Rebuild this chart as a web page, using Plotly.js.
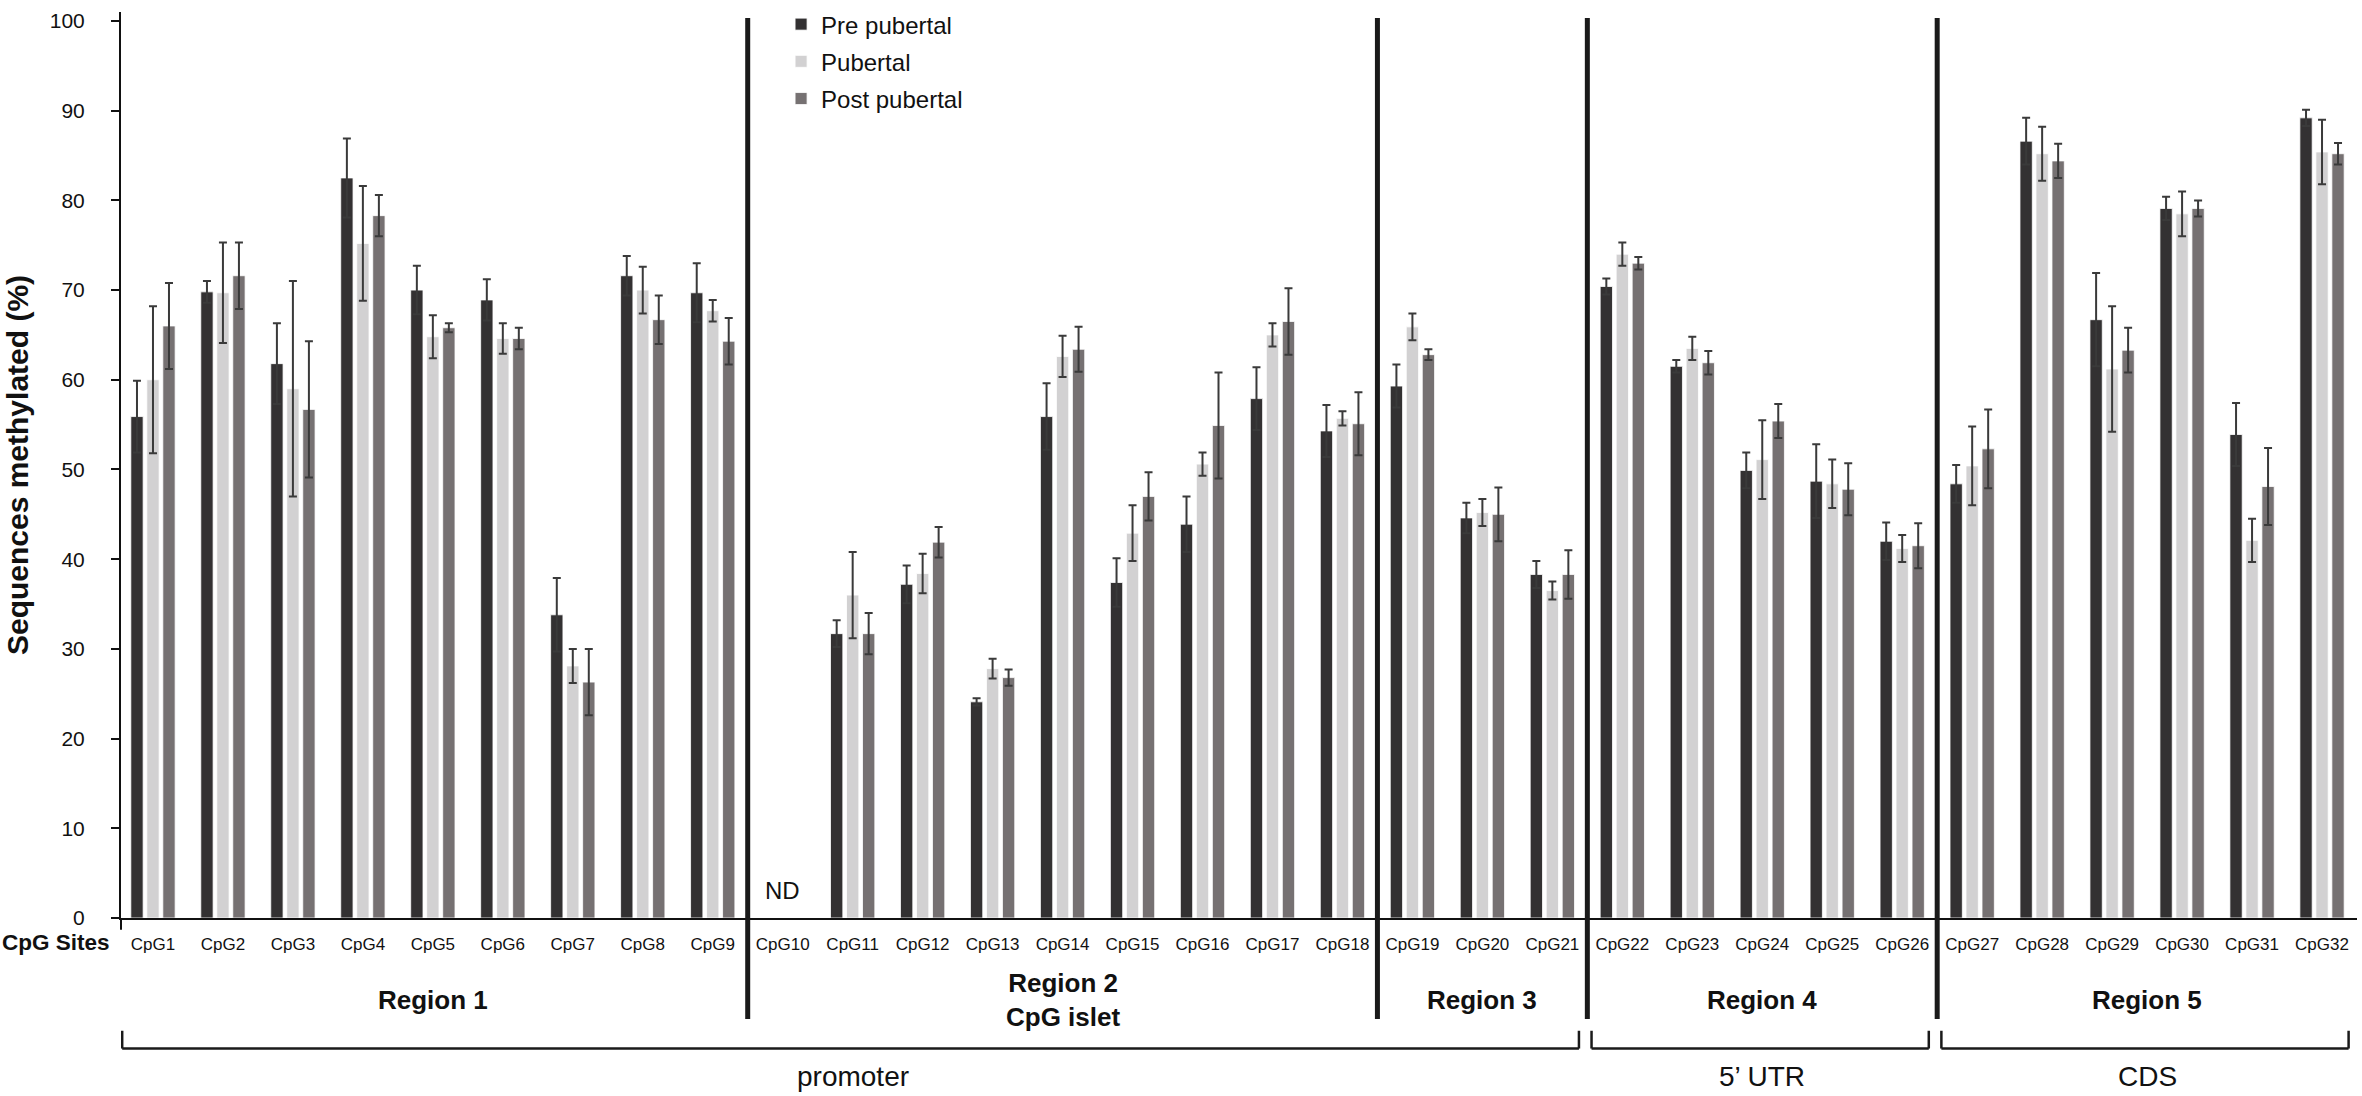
<!DOCTYPE html>
<html>
<head>
<meta charset="utf-8">
<script src="https://cdn.plot.ly/plotly-3.0.1.min.js"></script>
<style>
  html, body { margin: 0; padding: 0; background: #fff; }
  #chart { width: 2362px; height: 1096px; }
</style>
</head>
<body>
<div id="chart"></div>
<script>
// CpG sites on the x axis
const sites = ['CpG1', 'CpG2', 'CpG3', 'CpG4', 'CpG5', 'CpG6', 'CpG7', 'CpG8',
  'CpG9', 'CpG10', 'CpG11', 'CpG12', 'CpG13', 'CpG14', 'CpG15', 'CpG16',
  'CpG17', 'CpG18', 'CpG19', 'CpG20', 'CpG21', 'CpG22', 'CpG23', 'CpG24',
  'CpG25', 'CpG26', 'CpG27', 'CpG28', 'CpG29', 'CpG30', 'CpG31', 'CpG32'];

// % methylated, mean and error (CpG10 = ND)
const prePubertal = [55.9, 69.8, 61.8, 82.5, 70.0, 68.9, 33.8, 71.6, 69.7, null,
  31.7, 37.2, 24.1, 55.9, 37.4, 43.9, 57.9, 54.3, 59.3, 44.6, 38.3,
  70.4, 61.5, 49.9, 48.7, 42.0, 48.4, 86.6, 66.7, 79.1, 53.9, 89.2];
const prePubertalErr = [4.0, 1.2, 4.5, 4.4, 2.7, 2.3, 4.1, 2.2, 3.3, null,
  1.5, 2.1, 0.4, 3.7, 2.7, 3.1, 3.5, 2.9, 2.4, 1.7, 1.5,
  0.9, 0.7, 2.0, 4.1, 2.1, 2.1, 2.6, 5.2, 1.3, 3.5, 0.9];

const pubertal = [60.0, 69.7, 59.0, 75.2, 64.8, 64.6, 28.1, 70.0, 67.7, null,
  36.0, 38.4, 27.8, 62.6, 42.9, 50.6, 65.0, 55.7, 65.9, 45.2, 36.5,
  74.0, 63.5, 51.1, 48.4, 41.2, 50.4, 85.2, 61.2, 78.5, 42.1, 85.4];
const pubertalErr = [8.2, 5.6, 12.0, 6.4, 2.4, 1.7, 1.9, 2.6, 1.2, null,
  4.8, 2.2, 1.1, 2.3, 3.1, 1.3, 1.3, 0.8, 1.5, 1.5, 1.0,
  1.3, 1.3, 4.4, 2.7, 1.5, 4.4, 3.0, 7.0, 2.5, 2.4, 3.6];

const postPubertal = [66.0, 71.6, 56.7, 78.3, 65.8, 64.6, 26.3, 66.7, 64.3, null,
  31.7, 41.9, 26.8, 63.4, 47.0, 54.9, 66.5, 55.1, 62.8, 45.0, 38.3,
  73.0, 61.9, 55.4, 47.8, 41.5, 52.3, 84.4, 63.3, 79.1, 48.1, 85.2];
const postPubertalErr = [4.8, 3.7, 7.6, 2.3, 0.5, 1.2, 3.7, 2.7, 2.6, null,
  2.3, 1.7, 0.9, 2.5, 2.7, 5.9, 3.7, 3.5, 0.6, 3.0, 2.7,
  0.7, 1.3, 1.9, 2.9, 2.5, 4.4, 1.9, 2.5, 0.9, 4.3, 1.2];

// regions: label, first and last site of each block
const regionLabels = ['Region 1', 'Region 2<br>CpG islet', 'Region 3', 'Region 4', 'Region 5'];
const regionStarts = ['CpG1', 'CpG10', 'CpG19', 'CpG22', 'CpG27'];
const regionEnds = ['CpG9', 'CpG18', 'CpG21', 'CpG26', 'CpG32'];

// gene segments under the regions
const segmentLabels = ['promoter', '5\u2019 UTR', 'CDS'];
const segmentStarts = ['CpG1', 'CpG22', 'CpG27'];
const segmentEnds = ['CpG21', 'CpG26', 'CpG32'];

const FONT = 'Liberation Sans, Arial, Helvetica, sans-serif';
const INK = '#111111';

function barTrace(name, y, err, color) {
  return {
    type: 'bar', name: name, legendgroup: name,
    x: sites, y: y,
    marker: { color: color, line: { color: '#ffffff', width: 0.8 } },
    error_y: { type: 'data', array: err, visible: true, color: '#3a3a3a', thickness: 2, width: 4 },
    cliponaxis: false
  };
}

const traces = [
  barTrace('Pre pubertal', prePubertal, prePubertalErr, '#333132'),
  barTrace('Pubertal', pubertal, pubertalErr, '#d2d1d2'),
  barTrace('Post pubertal', postPubertal, postPubertalErr, '#767172')
];

// paper y for a pixel distance below the x axis (plot is 916 px tall)
const py = px => -px / 916;

const idx = s => sites.indexOf(s);
const shapes = [];
const annotations = [];

// vertical separators between regions
regionEnds.slice(0, -1).forEach(s => {
  shapes.push({ type: 'line', xref: 'x', yref: 'paper', x0: idx(s) + 0.5, x1: idx(s) + 0.5,
    y0: 0.9934, y1: py(102), line: { color: '#1a1a1a', width: 5 } });
});

// small extension of the y axis below zero
shapes.push({ type: 'line', xref: 'paper', yref: 'paper', x0: 0, x1: 0, y0: 0, y1: py(12),
  line: { color: INK, width: 2 } });

// region labels centred under each block
regionLabels.forEach((t, i) => {
  const c = (idx(regionStarts[i]) + idx(regionEnds[i])) / 2;
  annotations.push({ text: '<b>' + t + '</b>', xref: 'x', yref: 'paper', x: c, y: py(83),
    xanchor: 'center', yanchor: 'middle', showarrow: false,
    font: { family: FONT, size: 26, color: INK } });
});

// brackets for promoter / 5'UTR / CDS
segmentLabels.forEach((t, i) => {
  const a = idx(segmentStarts[i]) - 0.44;
  const b = idx(segmentEnds[i]) + 0.38;
  const ln = { color: '#1a1a1a', width: 2.5 };
  shapes.push({ type: 'line', xref: 'x', yref: 'paper', x0: a, x1: b, y0: py(132), y1: py(132), line: ln });
  shapes.push({ type: 'line', xref: 'x', yref: 'paper', x0: a, x1: a, y0: py(114), y1: py(132), line: ln });
  shapes.push({ type: 'line', xref: 'x', yref: 'paper', x0: b, x1: b, y0: py(114), y1: py(132), line: ln });
  const c = i === 0 ? idx('CpG11') : (idx(segmentStarts[i]) + idx(segmentEnds[i])) / 2;
  annotations.push({ text: t, xref: 'x', yref: 'paper', x: c, y: py(160),
    xanchor: 'center', yanchor: 'middle', showarrow: false,
    font: { family: FONT, size: 28, color: INK } });
});

annotations.push({ text: '<b>CpG Sites</b>', xref: 'paper', yref: 'paper', x: -0.004, y: py(25),
  xanchor: 'right', yanchor: 'middle', showarrow: false,
  font: { family: FONT, size: 22.5, color: INK } });
annotations.push({ text: 'ND', xref: 'x', yref: 'y', x: 'CpG10', y: 3.1,
  xanchor: 'center', yanchor: 'middle', showarrow: false,
  font: { family: FONT, size: 24, color: INK } });

const layout = {
  width: 2362, height: 1096,
  margin: { l: 121, r: 5, t: 2, b: 178 },
  paper_bgcolor: '#ffffff', plot_bgcolor: '#ffffff',
  font: { family: FONT, color: INK },
  barmode: 'group', bargap: 0.314, bargroupgap: 0.23,
  showlegend: true,
  legend: { x: 0.2952, y: 1.011, xanchor: 'left', yanchor: 'top', font: { size: 24, color: INK },
    tracegroupgap: 3, bgcolor: 'rgba(0,0,0,0)' },
  xaxis: {
    type: 'category', range: [-0.457, 31.5], showgrid: false, zeroline: false,
    showline: true, linecolor: INK, linewidth: 2, ticks: '',
    tickfont: { size: 17, color: INK }, ticklabelstandoff: 10, fixedrange: true
  },
  yaxis: {
    range: [0, 101], dtick: 10, showgrid: false, zeroline: false,
    showline: true, linecolor: INK, linewidth: 2,
    ticks: 'outside', ticklen: 8, tickwidth: 2, tickcolor: INK,
    tickfont: { size: 21, color: INK }, ticklabelstandoff: 22,
    title: { text: '<b>Sequences methylated (%)</b>', font: { size: 30, color: INK }, standoff: 12 }
  },
  shapes: shapes,
  annotations: annotations
};

Plotly.newPlot('chart', traces, layout, { displayModeBar: false, staticPlot: true });
</script>
</body>
</html>
